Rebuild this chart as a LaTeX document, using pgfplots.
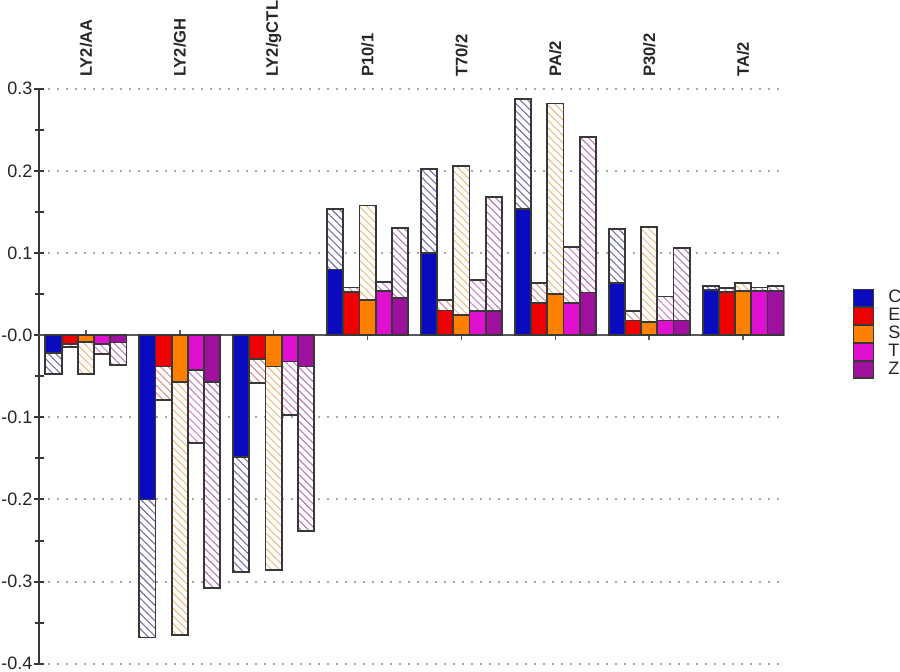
\documentclass[border=0pt]{standalone}
\usepackage{pgfplots}
\usepackage{pgfplotstable}
\pgfplotsset{compat=1.18}
\usetikzlibrary{patterns.meta}
\usepackage{fontspec}
\setmainfont{Liberation Sans}

\definecolor{cC}{HTML}{0A0ABE}
\definecolor{cE}{HTML}{EE0000}
\definecolor{cS}{HTML}{FF8000}
\definecolor{cT}{HTML}{E010D0}
\definecolor{cZ}{HTML}{A0109F}
\definecolor{hC}{HTML}{7070AC}
\definecolor{hE}{HTML}{D89090}
\definecolor{hS}{HTML}{ECC088}
\definecolor{hT}{HTML}{CC88C4}
\definecolor{hZ}{HTML}{B478B4}
\definecolor{edge}{HTML}{383838}

% x  solid / total for C E S T Z
\pgfplotstableread{
x  Cs     Ct     Es     Et     Ss     St     Ts     Tt     Zs     Zt
0 -0.022 -0.047 -0.011 -0.014 -0.008 -0.047 -0.011 -0.023 -0.009 -0.036
1 -0.200 -0.368 -0.038 -0.079 -0.057 -0.365 -0.042 -0.131 -0.057 -0.308
2 -0.148 -0.288 -0.029 -0.058 -0.038 -0.286 -0.032 -0.097 -0.038 -0.238
3  0.080  0.154  0.053  0.058  0.043  0.158  0.054  0.065  0.045  0.131
4  0.100  0.202  0.030  0.043  0.025  0.206  0.029  0.067  0.029  0.168
5  0.154  0.288  0.039  0.064  0.050  0.282  0.039  0.107  0.052  0.241
6  0.064  0.129  0.018  0.029  0.016  0.132  0.018  0.047  0.018  0.106
7  0.055  0.060  0.053  0.057  0.054  0.064  0.054  0.058  0.054  0.060
}\datatab

\pgfplotsset{
  hat/.style 2 args={ybar, bar width=0.1726, bar shift=#1,
    draw=none, fill=white,
    postaction={pattern={Lines[angle=-45,distance=2.7pt,line width=0.55pt]}, pattern color=#2},
    forget plot},
  sol/.style 2 args={ybar, bar width=0.1726, bar shift=#1,
    draw=none, fill=#2,
    legend image code/.code={\draw[fill=#2, draw=edge, line width=0.7pt] (0pt,-4.2pt) rectangle (10pt,4.2pt);}},
  out/.style={ybar, bar width=0.1726, bar shift=#1,
    draw=edge, line width=0.9pt, fill=none, forget plot},
}

\begin{document}
\begin{tikzpicture}[x=0.5pt,y=0.5pt]
% small category ticks on the zero line (drawn first, behind the bars)
\begin{axis}[
  at={(42,10)}, anchor=south west,
  scale only axis, width=372.5pt, height=287.5pt,
  xmin=-0.495, xmax=7.44, ymin=-0.4, ymax=0.3,
  axis x line*=middle, axis y line=none,
  x axis line style={draw=none},
  xtick={0,1,2,3,4,5,6,7}, xticklabels={},
  xtick style={draw=black!65, line width=0.8pt},
  tick align=center, major tick length=5pt,
]
\end{axis}
\begin{axis}[
  at={(42,10)}, anchor=south west,
  scale only axis, width=372.5pt, height=287.5pt,
  xmin=-0.495, xmax=7.44, ymin=-0.4, ymax=0.3,
  axis y line*=left, axis x line*=top,
  x axis line style={draw=none},
  y axis line style={draw=edge, line width=1pt},
  xtick={0,1,2,3,4,5,6,7},
  xticklabels={LY2/AA,LY2/GH,LY2/gCTL,P10/1,T70/2,PA/2,P30/2,TA/2},
  xticklabel pos=upper,
  xtick style={draw=none},
  xticklabel style={rotate=90, anchor=west, font=\bfseries\fontsize{8.3}{9}\selectfont, text=black!85, xshift=0pt},
  ytick={-0.4,-0.3,-0.2,-0.1,0,0.1,0.2,0.3},
  yticklabels={-0.4,-0.3,-0.2,-0.1,-0.0,0.1,0.2,0.3},
  yticklabel style={font=\fontsize{9}{10}\selectfont, text=black!85, xshift=2.5pt},
  minor y tick num=1,
  tick align=center,
  major tick length=5pt, minor tick length=4.5pt,
  ytick style={draw=edge, line width=1pt},
  ymajorgrids,
  grid style={draw=gray!70, line width=1pt, dash pattern=on 1pt off 3.5pt},
  extra y ticks={0}, extra y tick labels={},
  extra y tick style={grid=major, grid style={solid, draw=black!65, line width=1pt, dash pattern=}, major tick length=0pt},
  legend style={at={(1.0913,0.657)}, anchor=north west, draw=none, fill=none,
    inner sep=0pt, row sep=-2.8pt, font=\fontsize{9}{10}\selectfont, text=black!85,
    /tikz/every odd column/.append style={column sep=5pt}},
  legend cell align=left,
]
\addplot[hat={-0.3452}{hC}] table[x=x,y=Ct]{\datatab};
\addplot[sol={-0.3452}{cC}] table[x=x,y=Cs]{\datatab};
\addlegendentry{C}
\addplot[hat={-0.1726}{hE}] table[x=x,y=Et]{\datatab};
\addplot[sol={-0.1726}{cE}] table[x=x,y=Es]{\datatab};
\addlegendentry{E}
\addplot[hat={0}{hS}] table[x=x,y=St]{\datatab};
\addplot[sol={0}{cS}] table[x=x,y=Ss]{\datatab};
\addlegendentry{S}
\addplot[hat={0.1726}{hT}] table[x=x,y=Tt]{\datatab};
\addplot[sol={0.1726}{cT}] table[x=x,y=Ts]{\datatab};
\addlegendentry{T}
\addplot[hat={0.3452}{hZ}] table[x=x,y=Zt]{\datatab};
\addplot[sol={0.3452}{cZ}] table[x=x,y=Zs]{\datatab};
\addlegendentry{Z}
% outlines
\addplot[out=-0.3452] table[x=x,y=Ct]{\datatab};
\addplot[out=-0.3452] table[x=x,y=Cs]{\datatab};
\addplot[out=-0.1726] table[x=x,y=Et]{\datatab};
\addplot[out=-0.1726] table[x=x,y=Es]{\datatab};
\addplot[out=0] table[x=x,y=St]{\datatab};
\addplot[out=0] table[x=x,y=Ss]{\datatab};
\addplot[out=0.1726] table[x=x,y=Tt]{\datatab};
\addplot[out=0.1726] table[x=x,y=Ts]{\datatab};
\addplot[out=0.3452] table[x=x,y=Zt]{\datatab};
\addplot[out=0.3452] table[x=x,y=Zs]{\datatab};
\end{axis}
\pgfresetboundingbox
\useasboundingbox (0,0) rectangle (900,672);
\end{tikzpicture}
\end{document}
